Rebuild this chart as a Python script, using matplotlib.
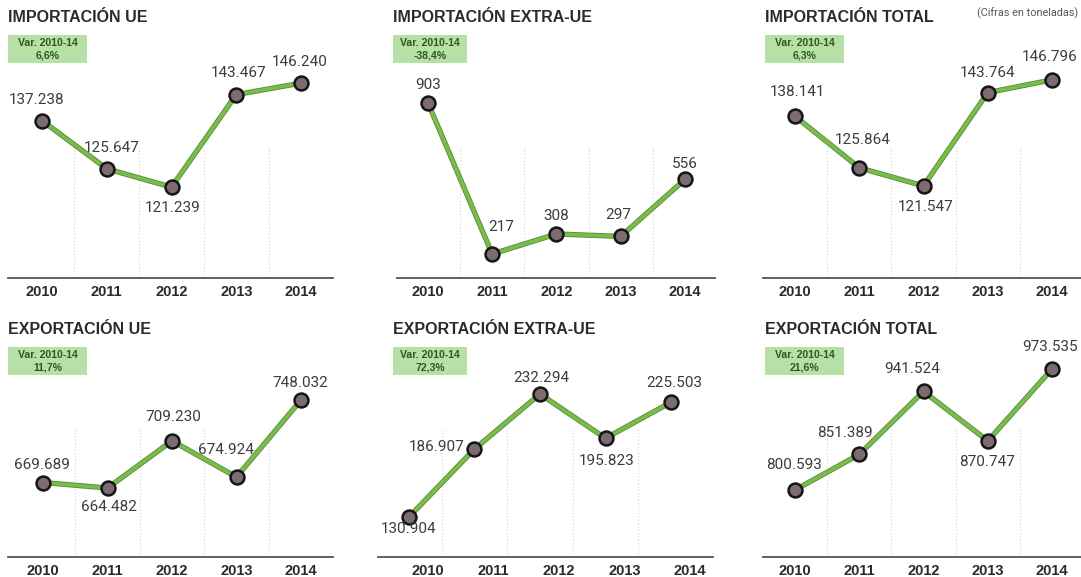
import matplotlib
matplotlib.use('Agg')
import matplotlib.pyplot as plt
import matplotlib.patheffects as pe
from matplotlib.patches import Rectangle

# datos (toneladas)
years = ['2010', '2011', '2012', '2013', '2014']
titles = ['IMPORTACIÓN UE', 'IMPORTACIÓN EXTRA-UE', 'IMPORTACIÓN TOTAL',
          'EXPORTACIÓN UE', 'EXPORTACIÓN EXTRA-UE', 'EXPORTACIÓN TOTAL']
imp_ue = [137238, 125647, 121239, 143467, 146240]
imp_extra = [903, 217, 308, 297, 556]
imp_total = [138141, 125864, 121547, 143764, 146796]
exp_ue = [669689, 664482, 709230, 674924, 748032]
exp_extra = [130904, 186907, 232294, 195823, 225503]
exp_total = [800593, 851389, 941524, 870747, 973535]
var_pct = ['6,6%', '-38,4%', '6,3%', '11,7%', '72,3%', '21,6%']

series = [imp_ue, imp_extra, imp_total, exp_ue, exp_extra, exp_total]

W, H = 1081, 577
fig = plt.figure(figsize=(W / 100, H / 100), dpi=100)
fig.patch.set_facecolor('white')

# layout per panel: axis left/right px, top/bottom px, xlim, ylim, point shift
left_px = [8, 397, 763, 8, 378, 763]
right_px = [333, 715, 1081, 333, 713, 1081]
top_px = [40, 40, 40, 325, 325, 325]
bot_px = [278, 278, 278, 557, 557, 557]
xlims = [(-0.525, 4.494), (-0.482, 4.467), (-0.498, 4.451),
         (-0.543, 4.496), (-0.763, 4.351), (-0.498, 4.451)]
ylims = [(99400, 156600), (108, 1189), (99600, 156300),
         (599000, 819200), (97900, 289200), (704800, 1036400)]
shift = [0, 0, 0, 0, -0.29, 0]
title_x = [8, 393, 765, 8, 393, 765]
title_y = [18, 18, 18, 330, 330, 330]
box_w = [79, 74, 79, 79, 74, 79]

# label offsets in pixels (dx, dy down)
offsets = [
    [(-5, -21), (5, -21), (1, 21), (2, -22), (-1, -21)],
    [(0, -18), (9, -27), (0, -18), (-2, -21), (0, -15)],
    [(2, -24), (3, -28), (2, 21), (0, -20), (-2, -23)],
    [(-1, -18), (1, 19), (1, -24), (-11, -27), (-1, -17)],
    [(0, 12), (-38, -2), (1, -16), (1, 23), (3, -19)],
    [(-1, -25), (-14, -21), (-11, -22), (-1, 21), (-2, -22)],
]

sans = ['Liberation Sans', 'DejaVu Sans']
rob = ['Roboto', 'Liberation Sans', 'DejaVu Sans']
green = '#78bd4a'

for k in range(6):
    l, r, t, b = left_px[k], right_px[k], top_px[k], bot_px[k]
    ax = fig.add_axes([l / W, 1 - b / H, (r - l) / W, (b - t) / H])
    ax.set_xlim(*xlims[k])
    ax.set_ylim(*ylims[k])
    ax.patch.set_alpha(0)
    for s in ['top', 'right', 'left']:
        ax.spines[s].set_visible(False)
    ax.spines['bottom'].set_color('#555555')
    ax.spines['bottom'].set_linewidth(1.3)
    ax.set_yticks([])
    ax.set_xticks(range(5))
    ax.set_xticklabels(years, fontsize=10.5, fontweight='bold', color='#2a2a2a', family=sans)
    ax.tick_params(axis='x', length=0, pad=5)

    xs = [i + shift[k] for i in range(5)]
    for i in range(4):
        ax.axvline(xs[i] + 0.5, ymax=0.55, color='#d2d2d2', lw=0.8, ls=(0, (1, 2)), zorder=1)

    ax.plot(xs, series[k], color=green, lw=2.6, zorder=2, solid_capstyle='round',
            path_effects=[pe.Stroke(linewidth=3.8, foreground='#5a8a3c'), pe.Normal()])
    ax.plot(xs, series[k], 'o', ms=10, mfc='#7d6b72', mec='#151515', mew=1.8, zorder=3)

    for i, v in enumerate(series[k]):
        dx, dy = offsets[k][i]
        ax.annotate(f'{v:,}'.replace(',', '.'), (xs[i], v), xytext=(dx, -dy),
                    textcoords='offset pixels', ha='center', va='center',
                    fontsize=11, color='#3c3c3c', family=rob, zorder=4)

    # title and green box
    fig.text(title_x[k] / W, 1 - title_y[k] / H, titles[k], fontsize=11.5,
             fontweight='bold', color='#2b2b2b', family=sans, ha='left', va='center')
    bx, by = title_x[k], title_y[k] + 17
    fig.add_artist(Rectangle((bx / W, 1 - (by + 28) / H), box_w[k] / W, 28 / H,
                             transform=fig.transFigure, facecolor='#b7e0a6',
                             edgecolor='none', zorder=0))
    cx = (bx + box_w[k] / 2) / W
    fig.text(cx, 1 - (by + 8) / H, 'Var. 2010-14', fontsize=7.6, fontweight='bold',
             color='#2d5a1f', family=sans, ha='center', va='center')
    fig.text(cx, 1 - (by + 20) / H, var_pct[k], fontsize=7.6, fontweight='bold',
             color='#2d5a1f', family=sans, ha='center', va='center')

fig.text(1078 / W, 1 - 13 / H, '(Cifras en toneladas)', fontsize=7.8, color='#555555',
         family=rob, ha='right', va='center')

fig.savefig('out.png', dpi=100)
